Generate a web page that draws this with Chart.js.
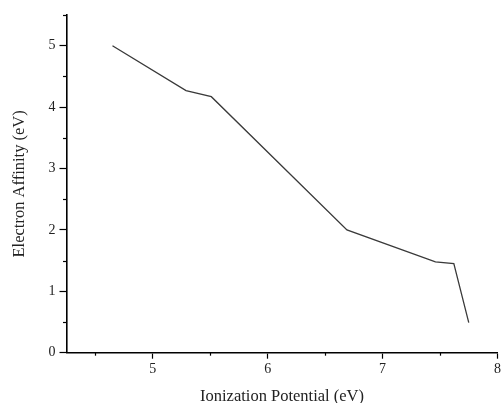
<!DOCTYPE html>
<html lang="en">
<head>
  <meta charset="UTF-8">
  <title>Electron Affinity vs Ionization Potential</title>
  <script src="https://cdn.jsdelivr.net/npm/chart.js"></script>
  <style>
    html, body { margin: 0; padding: 0; background: #fff; }
    #wrap { width: 503px; height: 403px; }
  </style>
</head>
<body>
  <div id="wrap"><canvas id="eaChart" width="503" height="403"></canvas></div>

  <script>
    // values
    const ionization = [4.65, 5.29, 5.51, 6.69, 7.46, 7.62, 7.75];
    const affinity = [5.0, 4.27, 4.17, 2.0, 1.48, 1.45, 0.49];
    const xRange = [4.25, 8];
    const yRange = [0, 5.5];

    const serif = "'Liberation Serif', 'Times New Roman', serif";

    // draws the short minor ticks at half steps
    const minorTicks = {
      id: 'minorTicks',
      afterDraw(chart) {
        const c = chart.ctx;
        const xs = chart.scales.x, ys = chart.scales.y;
        c.save();
        c.strokeStyle = '#000';
        c.lineWidth = 1.2;
        xs.ticks.forEach(t => {
          if (Number.isInteger(t.value)) return;
          const px = Math.round(xs.getPixelForValue(t.value)) + 0.5;
          c.beginPath();
          c.moveTo(px, xs.top);
          c.lineTo(px, xs.top + 3);
          c.stroke();
        });
        ys.ticks.forEach(t => {
          if (Number.isInteger(t.value)) return;
          const py = Math.round(ys.getPixelForValue(t.value)) + 0.5;
          c.beginPath();
          c.moveTo(ys.right, py);
          c.lineTo(ys.right - 3.5, py);
          c.stroke();
        });
        c.restore();
      }
    };

    const majorColor = ctx => Number.isInteger(ctx.tick.value) ? '#000' : 'rgba(0,0,0,0)';

    new Chart(document.getElementById('eaChart'), {
      type: 'line',
      data: {
        datasets: [{
          data: ionization.map((x, i) => ({ x: x, y: affinity[i] })),
          borderColor: '#3a3a3a',
          borderWidth: 1.3,
          pointRadius: 0,
          fill: false,
          tension: 0
        }]
      },
      options: {
        responsive: false,
        animation: false,
        layout: { padding: { top: 15, left: 11, right: 0, bottom: -2 } },
        plugins: { legend: { display: false }, tooltip: { enabled: false } },
        scales: {
          x: {
            type: 'linear',
            min: xRange[0],
            max: xRange[1],
            border: { color: '#000', width: 1.6 },
            grid: { drawOnChartArea: false, tickLength: 6, tickColor: majorColor, tickWidth: 1.2 },
            ticks: {
              stepSize: 0.5,
              includeBounds: false,
              autoSkip: false,
              maxRotation: 0,
              padding: 2,
              color: '#222',
              font: { family: serif, size: 14 },
              callback: v => Number.isInteger(v) ? v : ''
            },
            title: {
              display: true,
              text: 'Ionization Potential (eV)',
              color: '#222',
              font: { family: serif, size: 16.5, lineHeight: 1 },
              padding: { top: 9, bottom: 0 }
            }
          },
          y: {
            type: 'linear',
            min: yRange[0],
            max: yRange[1],
            border: { color: '#000', width: 1.6 },
            grid: { drawOnChartArea: false, tickLength: 7, tickColor: majorColor, tickWidth: 1.2 },
            ticks: {
              stepSize: 0.5,
              includeBounds: false,
              autoSkip: false,
              padding: 4,
              color: '#222',
              font: { family: serif, size: 14 },
              callback: v => Number.isInteger(v) ? v : ''
            },
            title: {
              display: true,
              text: 'Electron Affinity (eV)',
              color: '#222',
              font: { family: serif, size: 16.5, lineHeight: 1 },
              padding: { top: 0, bottom: 17 }
            }
          }
        }
      },
      plugins: [minorTicks]
    });
  </script>
</body>
</html>
